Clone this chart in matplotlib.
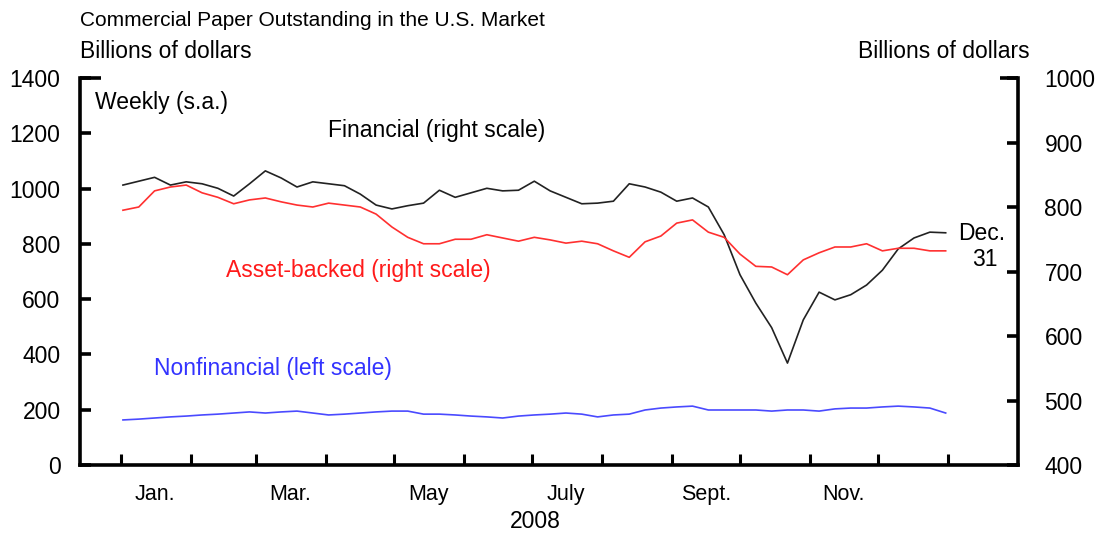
import numpy as np
import matplotlib
matplotlib.use("Agg")
import matplotlib.pyplot as plt

plt.rcParams['font.family'] = ['Liberation Sans', 'DejaVu Sans']

# weekly (Wednesday) observations, 2008
weeks = np.arange(np.datetime64('2008-01-02'), np.datetime64('2009-01-01'), np.timedelta64(7, 'D'))

# billions of dollars, right scale
financial = [834, 840, 846, 834, 839, 836, 829, 817, 836, 856, 845, 831, 839, 836,
             833, 820, 803, 797, 802, 806, 826, 815, 822, 829, 825, 826, 840, 825,
             815, 805, 806, 809, 836, 831, 823, 809, 814, 800, 757, 695, 651, 613,
             558, 625, 668, 656, 664, 679, 702, 735, 752, 761, 760]
asset_backed = [795, 800, 825, 831, 834, 822, 815, 805, 811, 814, 808, 803, 800, 806,
                803, 800, 789, 769, 753, 743, 743, 750, 750, 757, 752, 747, 753, 749,
                744, 747, 743, 732, 722, 746, 755, 775, 780, 761, 753, 727, 708, 707,
                695, 718, 729, 738, 738, 743, 732, 736, 736, 732, 732]
# billions of dollars, left scale
nonfinancial = [163, 166, 170, 174, 177, 181, 184, 188, 192, 188, 192, 195, 188, 181,
                184, 188, 192, 195, 195, 184, 184, 181, 177, 174, 170, 177, 181, 184,
                188, 184, 174, 181, 184, 199, 206, 210, 213, 199, 199, 199, 199, 195,
                199, 199, 195, 203, 206, 206, 210, 213, 210, 206, 188]

month_starts = np.arange(np.datetime64('2008-01'), np.datetime64('2009-02'),
                         np.timedelta64(1, 'M')).astype('datetime64[D]')
month_mid = np.array(['2008-01-16', '2008-03-16', '2008-05-16', '2008-07-16',
                      '2008-09-16', '2008-11-16'], dtype='datetime64[D]')
month_labels = ['Jan.', 'Mar.', 'May', 'July', 'Sept.', 'Nov.']

W, H = 1107, 540
fig = plt.figure(figsize=(W / 100, H / 100), dpi=100)
ax = fig.add_axes([80 / W, 1 - 465 / H, (1018 - 80) / W, (465 - 78) / H])
ax2 = ax.twinx()

ax.plot(weeks, nonfinancial, color='#4a4aff', lw=1.2)
ax2.plot(weeks, financial, color='#222222', lw=1.2)
ax2.plot(weeks, asset_backed, color='#ff3030', lw=1.2)

ax.set_xlim(np.datetime64('2007-12-14'), np.datetime64('2009-02-01'))
ax.set_ylim(0, 1400)
ax2.set_ylim(400, 1000)
ax.set_yticks(range(0, 1401, 200))
ax2.set_yticks(range(400, 1001, 100))

ax.set_xticks(month_starts)
ax.set_xticklabels([])
ax.set_xticks(month_mid, minor=True)
ax.set_xticklabels(month_labels, minor=True)

for a in (ax, ax2):
    a.spines['top'].set_visible(False)
    for s in a.spines.values():
        s.set_linewidth(2.6)
ax.spines['right'].set_visible(False)
ax2.spines['left'].set_visible(False)
ax2.spines['bottom'].set_visible(False)

ax.tick_params(axis='y', direction='in', length=8, width=2.6, pad=14, labelsize=16.5)
ax2.tick_params(axis='y', direction='in', length=8, width=2.6, pad=19, labelsize=16.5)
ax.tick_params(axis='x', which='major', direction='in', length=8, width=2.2)
ax.tick_params(axis='x', which='minor', length=0, pad=14, labelsize=15.5)

# short caps at the top of each vertical axis
ax.plot([0, 0.022], [1, 1], transform=ax.transAxes, clip_on=False, color='black',
        lw=2.6, solid_capstyle='butt')
ax.plot([0.981, 1], [1, 1], transform=ax.transAxes, clip_on=False, color='black',
        lw=2.6, solid_capstyle='butt')


def label(x, y, s, **kw):
    fig.text(x / W, 1 - y / H, s, va='center', **kw)


label(80, 20, 'Commercial Paper Outstanding in the U.S. Market', fontsize=15)
label(80, 51, 'Billions of dollars', fontsize=16.5)
label(1030, 51, 'Billions of dollars', fontsize=16.5, ha='right')
label(95, 103, 'Weekly (s.a.)', fontsize=16.5)
label(328, 130, 'Financial (right scale)', fontsize=16.5)
label(226, 271, 'Asset-backed (right scale)', fontsize=16.5, color='#ff1a1a')
label(154, 368, 'Nonfinancial (left scale)', fontsize=16.5, color='#3333ff')
label(982, 233, 'Dec.', fontsize=16.5, ha='center')
label(985, 259, '31', fontsize=16.5, ha='center')
label(535, 522, '2008', fontsize=16.5, ha='center')

fig.savefig('out.png', dpi=100)
